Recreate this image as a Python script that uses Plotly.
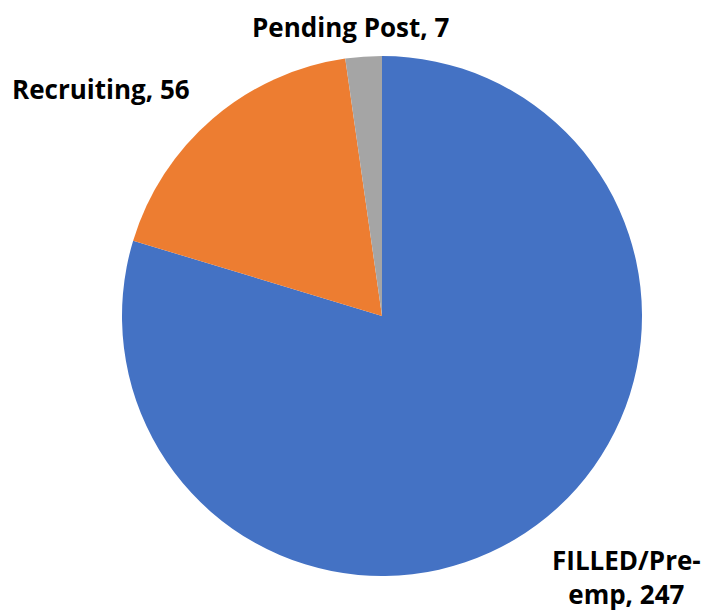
import plotly.graph_objects as go

labels = ["FILLED/Pre-emp", "Recruiting", "Pending Post"]
values = [247, 56, 7]
colors = ["#4472C4", "#ED7D31", "#A5A5A5"]
label_texts = ["FILLED/Pre-<br>emp, 247", "Recruiting, 56", "Pending Post, 7"]

W, H = 709, 613
off = 8  # page body margin
cx, cy, r = 382 - off, 316 - off, 260

fig = go.Figure(go.Pie(
    labels=labels, values=values, sort=False, direction="clockwise", rotation=0,
    marker=dict(colors=colors, line=dict(width=0)),
    textinfo="none", hoverinfo="label+value", showlegend=False,
    domain=dict(x=[(cx - r) / W, (cx + r) / W], y=[1 - (cy + r) / H, 1 - (cy - r) / H]),
))

font = dict(family="'Open Sans', Lato, sans-serif", size=26, color="#000000")
pos = [(626, 577, "middle"), (101, 89, "middle"), (350, 8, "top")]
for t, (x, y, ya) in zip(label_texts, pos):
    fig.add_annotation(x=(x - off) / W, y=1 - (y - off) / H, xref="paper", yref="paper",
                       text="<b>" + t + "</b>", showarrow=False, font=font,
                       xanchor="center", yanchor=ya, align="center", borderpad=0)

fig.update_layout(width=W, height=H, margin=dict(l=0, r=0, t=0, b=0),
                  paper_bgcolor="white", plot_bgcolor="white")
fig.write_html("out.html")
